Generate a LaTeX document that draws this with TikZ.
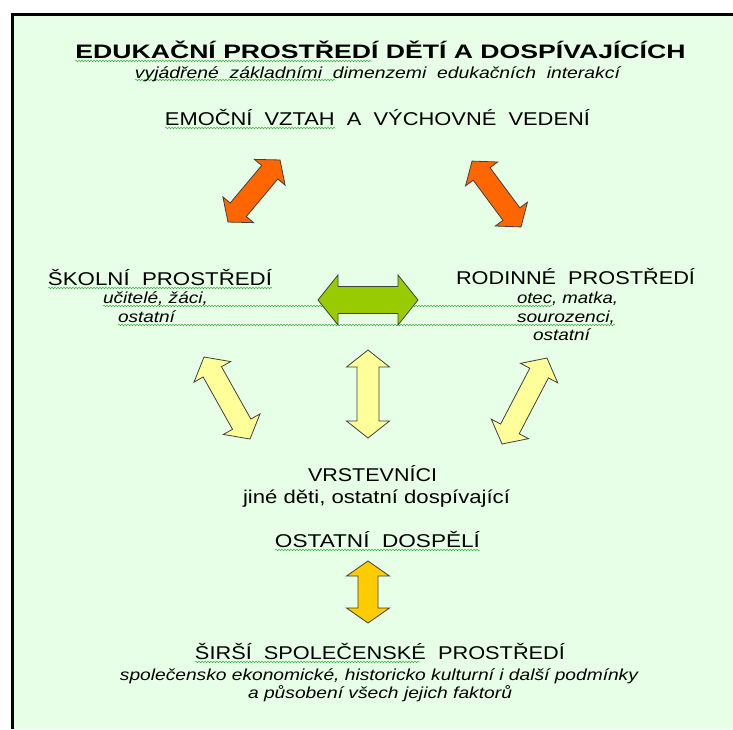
\documentclass[tikz,border=0pt]{standalone}
\usepackage{graphicx}
\usepackage{fontspec}
\setmainfont{Liberation Sans}
\usetikzlibrary{decorations.pathmorphing}
\definecolor{bg}{HTML}{E6FFE6}
\definecolor{orangeA}{HTML}{FF6600}
\definecolor{greenA}{HTML}{99CC00}
\definecolor{yellowA}{HTML}{FFFF99}
\definecolor{goldA}{HTML}{FFCC00}
\definecolor{squig}{HTML}{3CB043}
\newcommand{\fitw}[2]{\resizebox{#1pt}{\height}{#2}}
% name, center, angle, length, head width, shaft width, head length, colour
\newcommand{\dblarrow}[8]{%
  \coordinate (#1) at #2;
  \begin{scope}[shift={(#1)}, rotate=#3]
    \pgfmathsetmacro{\dA}{#4/2}
    \pgfmathsetmacro{\dB}{#4/2-#7}
    \pgfmathsetmacro{\dH}{#5/2}
    \pgfmathsetmacro{\dS}{#6/2}
    \filldraw[arrowbody, fill=#8] (\dA,0) -- (\dB,\dH) -- (\dB,\dS) -- (-\dB,\dS) -- (-\dB,\dH)
      -- (-\dA,0) -- (-\dB,-\dH) -- (-\dB,-\dS) -- (\dB,-\dS) -- (\dB,-\dH) -- cycle;
  \end{scope}}
\begin{document}
\begin{tikzpicture}[x=1pt,y=-1pt,
  arrowbody/.style={draw=black!75, line width=0.8pt, line join=miter},
  txt/.style={anchor=base, inner sep=0pt, font=\fontsize{18.5}{22}\selectfont},
  ttl/.style={anchor=base, inner sep=0pt, font=\fontsize{19.5}{23}\selectfont\bfseries},
  itx/.style={anchor=base, inner sep=0pt, font=\fontsize{16}{19}\selectfont\itshape},
  squiggle/.style={draw=squig, line width=0.5pt, decorate, decoration={snake, amplitude=0.8pt, segment length=3pt}}]
\useasboundingbox (0,0) rectangle (733,729);
\fill[bg] (12,14) rectangle (733,729);
\draw[line width=3pt] (12,729) -- (12,14) -- (733,14);

% spell-check squiggles
\draw[squiggle] (75,61) -- (372,61);
\draw[squiggle] (135,80) -- (335,80);
\draw[squiggle] (165,128) -- (335,128);
\draw[squiggle] (48,288) -- (272,288);
\draw[squiggle] (103,306) -- (552,306);
\draw[squiggle] (118,325) -- (615,325);
\draw[squiggle] (275,550) -- (480,550);
\draw[squiggle] (195,662) -- (420,662);

% texts
\node[ttl] (title) at (380.5,58) {\fitw{610}{EDUKAČNÍ PROSTŘEDÍ DĚTÍ A DOSPÍVAJÍCÍCH}};
\node[itx] (sub) at (377.5,78) {\fitw{485}{vyjádřené \ základními \ dimenzemi \ edukačních \ interakcí}};
\node[txt] (emo) at (377.5,125) {\fitw{425}{EMOČNÍ \ VZTAH \ A \ VÝCHOVNÉ \ VEDENÍ}};
\node[txt] (skol) at (160,285) {\fitw{224}{ŠKOLNÍ \ PROSTŘEDÍ}};
\node[itx] (skol1) at (155.5,303) {\fitw{105}{učitelé, žáci,}};
\node[itx] (skol2) at (146.5,322) {\fitw{57}{ostatní}};
\node[txt] (rod) at (575.5,284) {\fitw{239}{RODINNÉ \ PROSTŘEDÍ}};
\node[itx] (rod1) at (567.5,303) {\fitw{101}{otec, matka,}};
\node[itx] (rod2) at (566,322) {\fitw{98}{sourozenci,}};
\node[itx] (rod3) at (561.5,340) {\fitw{57}{ostatní}};
\node[txt] (vrs) at (372.5,481) {\fitw{129}{VRSTEVNÍCI}};
\node[txt] (vrs1) at (376.5,503) {\fitw{267}{jiné děti, ostatní dospívající}};
\node[txt] (dosp) at (377.5,547) {\fitw{205}{OSTATNÍ \ DOSPĚLÍ}};
\node[txt] (sirsi) at (380,659) {\fitw{370}{ŠIRŠÍ \ SPOLEČENSKÉ \ PROSTŘEDÍ}};
\node[itx] (sirsi1) at (379,680) {\fitw{518}{společensko ekonomické, historicko kulturní i další podmínky}};
\node[itx] (sirsi2) at (380,698) {\fitw{264}{a působení všech jejich faktorů}};

% arrows
\dblarrow{oL}{(254,191)}{50}{81}{40}{21}{16}{orangeA}
\dblarrow{oR}{(496.5,194)}{-53.4}{82}{40}{21}{16}{orangeA}
\dblarrow{gr}{(368,300)}{0}{100}{50}{27}{20}{greenA}
\dblarrow{yL}{(227,398)}{-60.7}{94}{42}{21}{17}{yellowA}
\dblarrow{yM}{(368,394)}{90}{88}{43}{22}{17}{yellowA}
\dblarrow{yR}{(524.5,401)}{62.4}{97}{42}{21}{17}{yellowA}
\dblarrow{gd}{(368,592)}{90}{62}{43}{20}{15}{goldA}
\end{tikzpicture}
\end{document}
